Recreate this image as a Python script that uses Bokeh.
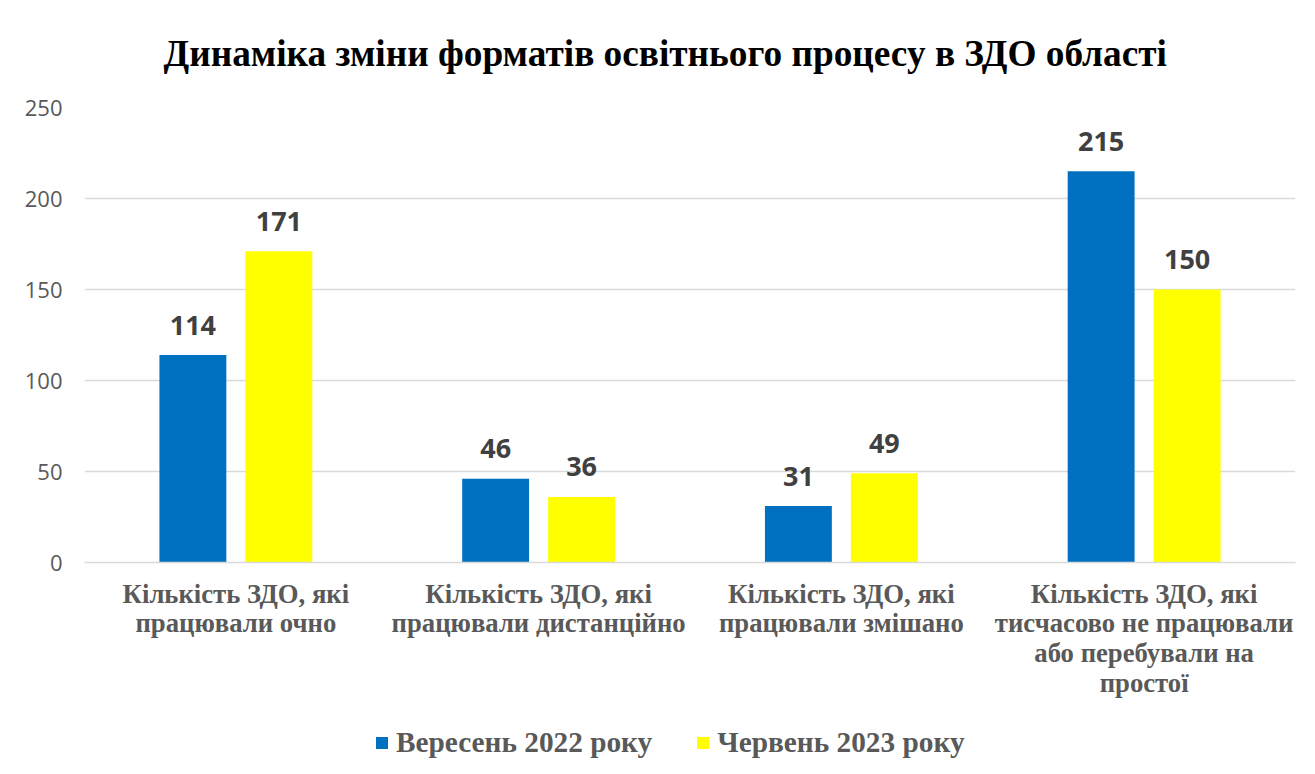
from bokeh.plotting import figure
from bokeh.layouts import column
from bokeh.models import (ColumnDataSource, FactorRange, Range1d, FixedTicker,
                          Legend, LegendItem)
from bokeh.transform import dodge
from bokeh.core.properties import value
from bokeh.embed import file_html
from bokeh.resources import INLINE

# ---- data ----
categories = [
    "Кількість ЗДО, які\nпрацювали очно",
    "Кількість ЗДО, які\nпрацювали дистанційно",
    "Кількість ЗДО, які\nпрацювали змішано",
    "Кількість ЗДО, які\nтисчасово не працювали\nабо перебували на\nпростої",
]
series_names = ["Вересень 2022 року", "Червень 2023 року"]
sep_2022 = [114, 46, 31, 215]
jun_2023 = [171, 36, 49, 150]
y_ticks = [0, 50, 100, 150, 200, 250]
title_text = "Динаміка зміни форматів освітнього процесу в ЗДО області"

BLUE = "#0070C0"
YELLOW = "#FFFF00"
GRID = "#d9d9d9"
GRAY = "#595959"
SERIF = "Liberation Serif"
SANS = "Open Sans"

src = ColumnDataSource(dict(
    cat=categories,
    sep=sep_2022,
    jun=jun_2023,
    sep_lbl=[str(v) for v in sep_2022],
    jun_lbl=[str(v) for v in jun_2023],
))

p = figure(
    width=1299, height=710,
    x_range=FactorRange(factors=categories, range_padding=0),
    y_range=Range1d(0, 250),
    output_backend="svg", toolbar_location=None,
    min_border_left=84, min_border_right=4,
    min_border_top=107, min_border_bottom=148,
)
p.outline_line_color = None
p.background_fill_color = "white"
p.border_fill_color = "white"

p.title.text = title_text
p.title.align = "left"
p.title.offset = 79
p.title.vertical_align = "top"
p.title.standoff = 64
p.title.text_font = SERIF
p.title.text_font_style = "bold"
p.title.text_font_size = "37.3px"
p.title.text_color = "black"

off = 0.142
w = 0.221
r1 = p.vbar(x=dodge("cat", -off, range=p.x_range), top="sep", width=w,
            source=src, fill_color=BLUE, line_color=None)
r2 = p.vbar(x=dodge("cat", off, range=p.x_range), top="jun", width=w,
            source=src, fill_color=YELLOW, line_color=None)

for col, lbl, o in (("sep", "sep_lbl", -off), ("jun", "jun_lbl", off)):
    p.text(x=dodge("cat", o, range=p.x_range), y=col, text=lbl, source=src,
           text_align="center", text_baseline="alphabetic", y_offset=-30,
           text_font=value(SANS), text_font_style="bold",
           text_font_size="27px", text_color="#404040")

# axes
p.xgrid.grid_line_color = None
p.ygrid.grid_line_color = GRID
p.ygrid.grid_line_width = 1.3

p.yaxis.ticker = FixedTicker(ticks=y_ticks)
p.yaxis.axis_line_color = None
p.yaxis.major_tick_line_color = None
p.yaxis.minor_tick_line_color = None
p.yaxis.major_tick_out = 0
p.yaxis.major_label_standoff = 22
p.yaxis.major_label_text_font = SANS
p.yaxis.major_label_text_font_size = "22px"
p.yaxis.major_label_text_color = GRAY

p.xaxis.axis_line_color = GRID
p.xaxis.axis_line_width = 1.3
p.xaxis.major_tick_line_color = None
p.xaxis.major_tick_out = 0
p.xaxis.major_label_standoff = 16
p.xaxis.major_label_text_font = SERIF
p.xaxis.major_label_text_font_style = "bold"
p.xaxis.major_label_text_font_size = "26.7px"
p.xaxis.major_label_text_color = GRAY
p.xaxis.major_label_text_line_height = 0.99

# legend strip (separate figure below the chart)
lg = figure(width=1299, height=62, x_range=Range1d(0, 1), y_range=Range1d(0, 1),
            output_backend="svg", toolbar_location=None,
            x_axis_location=None, y_axis_location=None,
            min_border=0)
lg.outline_line_color = None
lg.xgrid.grid_line_color = None
lg.ygrid.grid_line_color = None
# zero-height swatch renderers, used only for the legend glyphs
l1 = lg.vbar(x=[0.5], top=[0], width=0.001, fill_color=BLUE, line_color=None)
l2 = lg.vbar(x=[0.5], top=[0], width=0.001, fill_color=YELLOW, line_color=None)
legend = Legend(items=[LegendItem(label=series_names[0], renderers=[l1]),
                       LegendItem(label=series_names[1], renderers=[l2])],
                orientation="horizontal", location=(290, 13),
                glyph_width=15, glyph_height=15, label_standoff=7, spacing=43,
                padding=0, margin=0, border_line_color=None,
                background_fill_alpha=0,
                label_text_font=SERIF, label_text_font_style="bold",
                label_text_font_size="29.3px", label_text_color=GRAY)
lg.add_layout(legend, "center")

layout = column(p, lg, spacing=0)
open("out.html", "w").write(file_html(layout, INLINE))
